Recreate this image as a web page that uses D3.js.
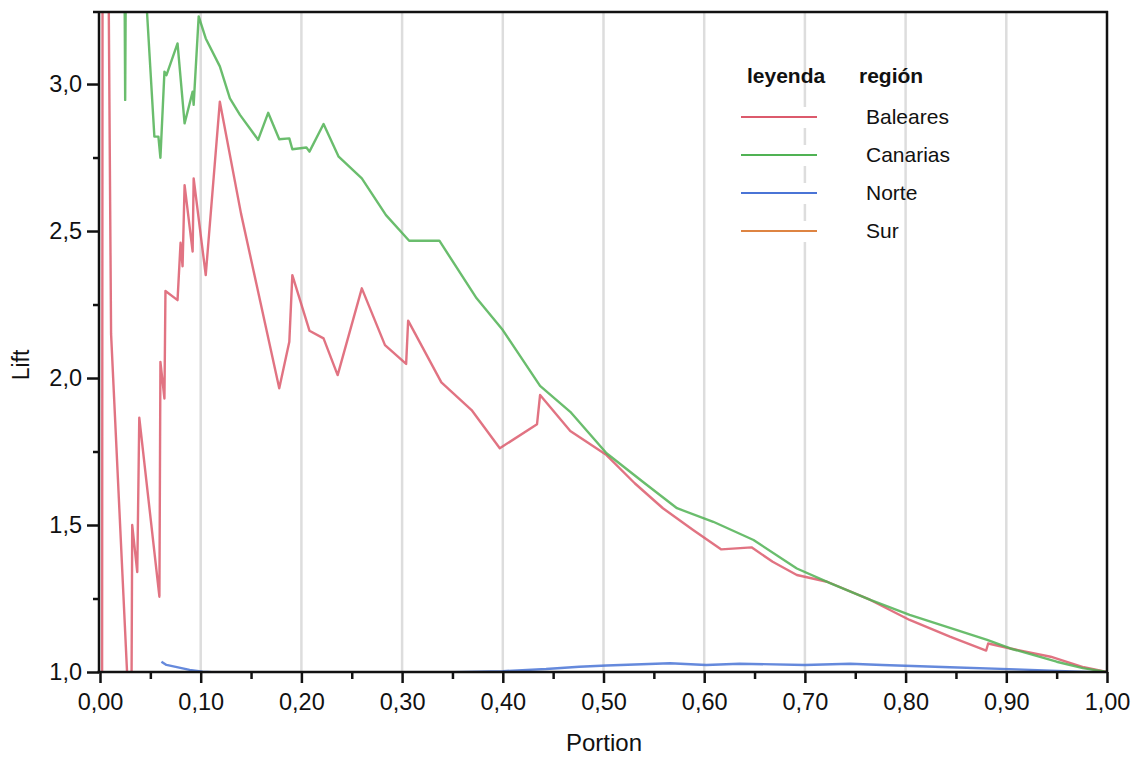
<!DOCTYPE html>
<html>
<head>
<meta charset="utf-8">
<script src="https://cdn.jsdelivr.net/npm/d3@7"></script>
<style>
  body { margin: 0; background: #fff; }
  svg { display: block; font-family: "Liberation Sans", Arial, sans-serif; }
</style>
</head>
<body>
<svg id="chart" width="1139" height="758"></svg>
<script>
// ---- data (Portion, Lift) ----
const seriesNames = ["Baleares", "Canarias", "Norte", "Sur"];
const seriesColors = ["#dc5a6c", "#50b254", "#4a74d6", "#de8442"];

const baleares = [
  [0.002, 0.50], [0.003, 6.00], [0.008, 3.60], [0.011, 2.15], [0.031, 0.70],
  [0.032, 1.50], [0.037, 1.34], [0.039, 1.865], [0.059, 1.256], [0.060, 2.055],
  [0.064, 1.93], [0.065, 2.296], [0.077, 2.265], [0.080, 2.46], [0.082, 2.38],
  [0.084, 2.656], [0.092, 2.43], [0.093, 2.679], [0.105, 2.35], [0.119, 2.94],
  [0.140, 2.56], [0.178, 1.965], [0.188, 2.123], [0.191, 2.35], [0.208, 2.161],
  [0.222, 2.135], [0.236, 2.01], [0.260, 2.305], [0.283, 2.112], [0.304, 2.048],
  [0.306, 2.195], [0.339, 1.985], [0.369, 1.891], [0.397, 1.761], [0.434, 1.843],
  [0.437, 1.942], [0.467, 1.82], [0.503, 1.738], [0.531, 1.642], [0.559, 1.557],
  [0.589, 1.483], [0.617, 1.417], [0.647, 1.424], [0.668, 1.375], [0.692, 1.33],
  [0.722, 1.307], [0.765, 1.245], [0.804, 1.177], [0.844, 1.12], [0.880, 1.073],
  [0.882, 1.097], [0.904, 1.08], [0.944, 1.052], [0.977, 1.016], [1.000, 1.000]
];

const canarias = [
  [0.003, 5.50], [0.015, 4.20], [0.024, 3.60], [0.025, 2.946], [0.026, 3.60],
  [0.040, 3.70], [0.044, 3.40], [0.054, 2.821], [0.058, 2.821], [0.060, 2.749],
  [0.064, 3.042], [0.066, 3.03], [0.077, 3.138], [0.084, 2.866], [0.092, 2.974],
  [0.093, 2.929], [0.098, 3.23], [0.105, 3.155], [0.119, 3.06], [0.129, 2.951],
  [0.139, 2.895], [0.155, 2.82], [0.157, 2.81], [0.167, 2.902], [0.178, 2.812],
  [0.188, 2.815], [0.191, 2.778], [0.205, 2.784], [0.208, 2.77], [0.222, 2.864],
  [0.237, 2.753], [0.260, 2.679], [0.284, 2.554], [0.307, 2.467], [0.337, 2.467],
  [0.374, 2.271], [0.400, 2.163], [0.437, 1.973], [0.467, 1.885], [0.503, 1.744],
  [0.539, 1.647], [0.573, 1.557], [0.609, 1.511], [0.649, 1.449], [0.692, 1.352],
  [0.725, 1.302], [0.765, 1.245], [0.804, 1.194], [0.881, 1.109], [0.904, 1.08],
  [0.950, 1.035], [0.976, 1.013], [1.000, 1.000]
];

const norte = [
  [0.061, 1.035], [0.066, 1.024], [0.089, 1.007], [0.102, 1.001], [0.129, 0.996],
  [0.160, 0.970], [0.220, 0.950], [0.290, 0.970], [0.327, 0.998], [0.400, 1.003],
  [0.443, 1.010], [0.476, 1.018], [0.503, 1.022], [0.566, 1.030], [0.602, 1.024],
  [0.635, 1.028], [0.700, 1.024], [0.745, 1.028], [0.777, 1.024], [0.844, 1.016],
  [0.910, 1.009], [1.000, 0.998]
];

const sur = [
  [0.050, 0.55], [0.200, 0.72], [0.400, 0.82], [0.600, 0.90], [0.800, 0.95],
  [0.950, 0.985], [1.000, 1.000]
];

const portionTicks = [0, 0.1, 0.2, 0.3, 0.4, 0.5, 0.6, 0.7, 0.8, 0.9, 1.0];
const portionMinor = [0.05, 0.15, 0.25, 0.35, 0.45, 0.55, 0.65, 0.75, 0.85, 0.95];
const liftTicks = [1.0, 1.5, 2.0, 2.5, 3.0];
const liftMinor = [1.25, 1.75, 2.25, 2.75];
const legendTitle = ["leyenda", "región"];
const xTitle = "Portion";
const yTitle = "Lift";

// ---- drawing ----
const svg = d3.select("#chart");
const L = 100, R = 1107, T = 12, B = 672;
const x = d3.scaleLinear().domain([0, 1]).range([L, R]);
const y = d3.scaleLinear().domain([1, 3.245]).range([B, T]);

svg.append("rect").attr("width", 1139).attr("height", 758).attr("fill", "#fff");

// vertical grid
svg.append("g").selectAll("line")
  .data(portionTicks.filter(d => d > 0 && d < 1))
  .join("line")
  .attr("x1", d => x(d)).attr("x2", d => x(d))
  .attr("y1", T).attr("y2", B)
  .attr("stroke", "#dddddd").attr("stroke-width", 2.5);

// legend background pieces (interrupt gridline)
const legX0 = 741, legX1 = 817, legY0 = 117, legDY = 38;
svg.append("g").selectAll("rect")
  .data(seriesNames)
  .join("rect")
  .attr("x", legX0).attr("width", legX1 - legX0)
  .attr("y", (d, i) => legY0 + i * legDY - 10).attr("height", 21)
  .attr("fill", "#fff");

// clip
svg.append("clipPath").attr("id", "plotclip")
  .append("rect").attr("x", L).attr("y", T).attr("width", R - L).attr("height", B - T);

const line = d3.line().x(d => x(d[0])).y(d => y(d[1]));
const allSeries = [baleares, canarias, norte, sur];
const gLines = svg.append("g").attr("clip-path", "url(#plotclip)");
allSeries.forEach((s, i) => {
  gLines.append("path")
    .datum(s)
    .attr("d", line)
    .attr("fill", "none")
    .attr("stroke", seriesColors[i])
    .attr("stroke-width", 2.4)
    .attr("stroke-opacity", 0.85)
    .attr("stroke-linejoin", "round");
});

// axes
const fmtX = d => d.toFixed(2).replace(".", ",");
const fmtY = d => d.toFixed(1).replace(".", ",");

const xAxis = svg.append("g").attr("transform", `translate(0,${B})`)
  .call(d3.axisBottom(x).tickValues(portionTicks).tickFormat(fmtX)
    .tickSize(11).tickSizeOuter(0).tickPadding(10));
const xMinorAxis = svg.append("g").attr("transform", `translate(0,${B})`)
  .call(d3.axisBottom(x).tickValues(portionMinor).tickFormat("")
    .tickSize(7).tickSizeOuter(0));
const yAxis = svg.append("g").attr("transform", `translate(99,0)`)
  .call(d3.axisLeft(y).tickValues(liftTicks).tickFormat(fmtY)
    .tickSize(12).tickSizeOuter(0).tickPadding(5));
const yMinorAxis = svg.append("g").attr("transform", `translate(99,0)`)
  .call(d3.axisLeft(y).tickValues(liftMinor).tickFormat("")
    .tickSize(6).tickSizeOuter(0));

[xAxis, xMinorAxis, yAxis, yMinorAxis].forEach(g => {
  g.select(".domain").remove();
  g.selectAll(".tick line").attr("stroke", "#111").attr("stroke-width", 2.5);
  g.selectAll(".tick text").attr("fill", "#111")
    .style("font-size", "23.5px").style("font-family", "'Liberation Sans', Arial, sans-serif");
});

// frame
const frame = svg.append("g").attr("stroke", "#111").attr("stroke-width", 2.5);
frame.append("line").attr("x1", 97.5).attr("x2", R + 1).attr("y1", B).attr("y2", B);
frame.append("line").attr("x1", 99).attr("x2", 99).attr("y1", T - 1).attr("y2", B + 1);
frame.append("line").attr("x1", 93).attr("x2", R + 1).attr("y1", T).attr("y2", T);
frame.append("line").attr("x1", R).attr("x2", R).attr("y1", T - 1).attr("y2", B + 1);

// axis titles
svg.append("text").attr("x", 604).attr("y", 751)
  .attr("text-anchor", "middle").style("font-size", "24px").attr("fill", "#111")
  .text(xTitle);
svg.append("text").attr("transform", "translate(29,365) rotate(-90)")
  .attr("text-anchor", "middle").style("font-size", "23px").attr("fill", "#111")
  .text(yTitle);

// legend
svg.append("text").attr("x", 747).attr("y", 83)
  .style("font-size", "21px").style("font-weight", "bold").attr("fill", "#111")
  .text(legendTitle[0]);
svg.append("text").attr("x", 859).attr("y", 83)
  .style("font-size", "21px").style("font-weight", "bold").attr("fill", "#111")
  .text(legendTitle[1]);
const leg = svg.append("g").selectAll("g").data(seriesNames).join("g")
  .attr("transform", (d, i) => `translate(0,${legY0 + i * legDY})`);
leg.append("line").attr("x1", legX0).attr("x2", legX1).attr("y1", 0).attr("y2", 0)
  .attr("stroke", (d, i) => seriesColors[i]).attr("stroke-width", 2);
leg.append("text").attr("x", 866).attr("y", 7)
  .style("font-size", "21px").attr("fill", "#111")
  .text(d => d);
</script>
</body>
</html>
